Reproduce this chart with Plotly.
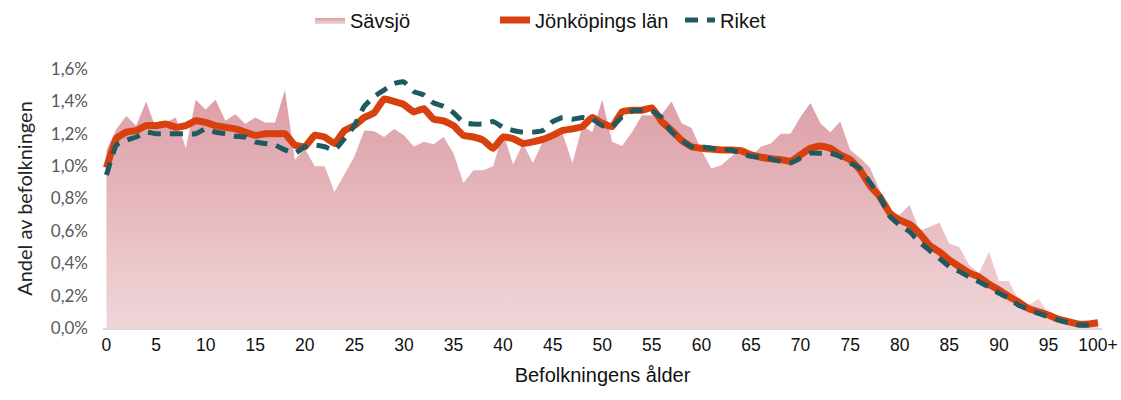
import plotly.graph_objects as go

ages = list(range(0, 101))
tick_vals = list(range(0, 101, 5))
tick_text = [str(v) for v in range(0, 100, 5)] + ["100+"]
y_tick_vals = [0, 0.2, 0.4, 0.6, 0.8, 1.0, 1.2, 1.4, 1.6]
y_tick_text = ["0,0%", "0,2%", "0,4%", "0,6%", "0,8%", "1,0%", "1,2%", "1,4%", "1,6%"]

savsjo = [1.10, 1.23, 1.31, 1.25, 1.40, 1.23, 1.27, 1.30, 1.11, 1.41,
          1.35, 1.41, 1.28, 1.32, 1.26, 1.30, 1.27, 1.27, 1.47, 1.04,
          1.11, 1.00, 1.00, 0.84, 0.95, 1.06, 1.22, 1.215, 1.18, 1.23,
          1.19, 1.12, 1.15, 1.135, 1.18, 1.08, 0.895, 0.975, 0.975, 1.00,
          1.21, 1.01, 1.14, 1.02, 1.15, 1.18, 1.20, 1.02, 1.25, 1.21,
          1.41, 1.15, 1.125, 1.21, 1.315, 1.315, 1.32, 1.40, 1.265, 1.235,
          1.10, 0.985, 1.005, 1.06, 1.11, 1.06, 1.12, 1.14, 1.20, 1.20,
          1.305, 1.39, 1.265, 1.21, 1.275, 1.10, 1.05, 0.99, 0.85, 0.71,
          0.70, 0.76, 0.60, 0.625, 0.65, 0.52, 0.50, 0.39, 0.34, 0.47,
          0.29, 0.29, 0.17, 0.14, 0.18, 0.09, 0.06, 0.045, 0.035, 0.03,
          0.03]

jonkoping = [0.99, 1.17, 1.21, 1.22, 1.25, 1.25, 1.26, 1.24, 1.25, 1.28,
             1.27, 1.25, 1.24, 1.23, 1.21, 1.19, 1.20, 1.20, 1.20, 1.13,
             1.12, 1.19, 1.18, 1.14, 1.22, 1.25, 1.30, 1.33, 1.415, 1.40,
             1.38, 1.335, 1.355, 1.29, 1.28, 1.25, 1.19, 1.18, 1.16, 1.11,
             1.18, 1.17, 1.14, 1.15, 1.165, 1.19, 1.22, 1.23, 1.245, 1.30,
             1.265, 1.245, 1.335, 1.345, 1.345, 1.36, 1.275, 1.22, 1.16, 1.12,
             1.11, 1.105, 1.10, 1.10, 1.095, 1.07, 1.055, 1.045, 1.04, 1.03,
             1.07, 1.11, 1.125, 1.11, 1.07, 1.04, 0.975, 0.88, 0.81, 0.71,
             0.667, 0.64, 0.585, 0.51, 0.47, 0.42, 0.38, 0.34, 0.315, 0.27,
             0.235, 0.195, 0.16, 0.12, 0.10, 0.08, 0.055, 0.04, 0.025, 0.025,
             0.033]

riket = [0.945, 1.13, 1.16, 1.18, 1.21, 1.20, 1.20, 1.20, 1.20, 1.20,
         1.23, 1.21, 1.20, 1.185, 1.18, 1.15, 1.14, 1.13, 1.10, 1.08,
         1.12, 1.13, 1.12, 1.10, 1.17, 1.25, 1.37, 1.43, 1.47, 1.51,
         1.52, 1.46, 1.44, 1.39, 1.37, 1.33, 1.27, 1.26, 1.26, 1.275,
         1.24, 1.22, 1.21, 1.21, 1.22, 1.275, 1.30, 1.29, 1.30, 1.29,
         1.25, 1.245, 1.305, 1.34, 1.345, 1.34, 1.30, 1.21, 1.16, 1.12,
         1.12, 1.11, 1.10, 1.10, 1.08, 1.06, 1.055, 1.045, 1.03, 1.02,
         1.05, 1.08, 1.08, 1.08, 1.06, 1.02, 0.985, 0.90, 0.81, 0.69,
         0.635, 0.595, 0.53, 0.48, 0.43, 0.38, 0.35, 0.315, 0.285, 0.255,
         0.215, 0.185, 0.14, 0.115, 0.09, 0.07, 0.05, 0.033, 0.02, 0.018,
         0.02]

sans = "Liberation Sans, Arial, sans-serif"
light = "Lato, Open Sans, sans-serif"

fig = go.Figure()

fig.add_trace(go.Scatter(
    x=ages, y=savsjo, name="Sävsjö", mode="lines",
    line=dict(width=0, color="#dfa3ab"),
    fill="tozeroy",
    fillcolor="#e3afb5",
    fillgradient=dict(type="vertical",
                      colorscale=[[0, "#f0d6d9"], [1, "#dc9ca5"]],
                      start=0, stop=1.5),
))

fig.add_trace(go.Scatter(
    x=ages, y=jonkoping, name="Jönköpings län", mode="lines",
    line=dict(width=7, color="#d8400e", shape="spline", smoothing=0.4),
))

fig.add_trace(go.Scatter(
    x=ages, y=riket, name="Riket", mode="lines",
    line=dict(width=5, color="#1e5a5f", dash="13px,9px", shape="spline", smoothing=0.4),
))

# body margin is removed in the page (post_script), so the figure sits at (0, 0)
W, H = 1121, 400
left_px = 106
right_px = 1098
x0, x1 = -0.35, 100.4
ppy = (right_px - left_px) / 100.0
ml = int(round(left_px + x0 * ppy))
mr = int(round(W - (right_px + (x1 - 100) * ppy)))
mt = 69
mb = H - 328

fig.update_layout(
    width=W, height=H,
    paper_bgcolor="white", plot_bgcolor="white",
    margin=dict(l=ml, r=mr, t=mt, b=mb, autoexpand=False),
    showlegend=True,
    legend=dict(orientation="h", x=0.485, xanchor="center",
                yref="container", y=1 - 20 / H, yanchor="middle",
                font=dict(family=sans, size=20, color="#111111"),
                entrywidth=140, traceorder="normal", bgcolor="rgba(0,0,0,0)"),
    xaxis=dict(
        range=[x0, x1], automargin=False,
        tickmode="array", tickvals=tick_vals, ticktext=tick_text,
        tickfont=dict(family=sans, size=17.5, color="#111111"),
        ticklabeloverflow="allow",
        showgrid=False, zeroline=False,
        showline=True, linecolor="#d9d9d9", linewidth=2,
        ticks="", ticklen=0,
        title=dict(text="Befolkningens ålder", font=dict(family=sans, size=20, color="#111111"),
                   standoff=14),
    ),
    yaxis=dict(
        range=[0, 1.6], automargin=False,
        tickmode="array", tickvals=y_tick_vals, ticktext=y_tick_text,
        tickfont=dict(family=light, size=17, color="#595959"),
        showgrid=False, zeroline=False, showline=False,
        ticks="", ticklabelstandoff=14,
        title=dict(text="Andel av befolkningen", font=dict(family=light, size=20, color="#222222"),
                   standoff=12),
    ),
)

fig.write_html(
    "out.html",
    config={"displayModeBar": False},
    post_script="document.body.style.margin='0';document.body.style.overflow='hidden';",
)
